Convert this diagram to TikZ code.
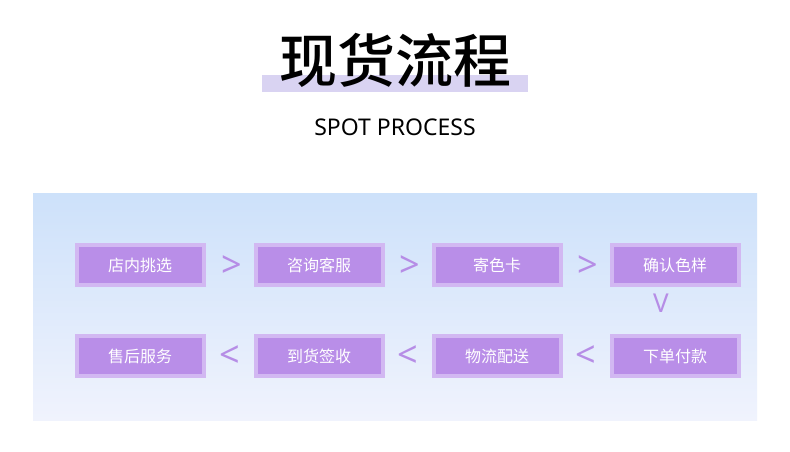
\documentclass[tikz,border=0pt]{standalone}
\usepackage{fontspec}
\setmainfont{Noto Sans}
\newfontfamily\cjk{Noto Sans CJK SC}
\newfontfamily\cjkm{Noto Sans CJK SC Medium}
\definecolor{boxin}{HTML}{B98EE8}
\definecolor{boxout}{HTML}{D2B8F2}
\definecolor{arr}{HTML}{B68DE6}
\definecolor{bar}{HTML}{D9D3F2}
\begin{document}
\begin{tikzpicture}[x=1pt,y=-1pt,
  pstep/.style={draw=boxout,line width=4pt,fill=boxin,minimum width=127pt,minimum height=40pt,inner sep=0pt,text=white,font=\cjk\fontsize{16}{18}\selectfont},
  ar/.style={text=arr,font=\fontsize{36}{36}\selectfont}]
\useasboundingbox (0,0) rectangle (790,451);
\fill[white] (0,0) rectangle (790,451);
\fill[bar] (262,75) rectangle (528,92);
\node[font=\cjkm\fontsize{58}{62}\selectfont] (t) at (395,60) {现货流程};
\node[font=\fontsize{23}{26}\selectfont] (s) at (395,127) {SPOT PROCESS};
\shade[top color={rgb,255:red,205;green,225;blue,250},bottom color={rgb,255:red,240;green,243;blue,253}] (33,193) rectangle (757,420);
\node[pstep] (a1) at (140,265) {店内挑选};
\node[pstep] (a2) at (319,265) {咨询客服};
\node[pstep] (a3) at (497,265) {寄色卡};
\node[pstep] (a4) at (675,265) {确认色样};
\node[pstep] (b4) at (675,356) {下单付款};
\node[pstep] (b3) at (497,356) {物流配送};
\node[pstep] (b2) at (319,356) {到货签收};
\node[pstep] (b1) at (140,356) {售后服务};
\node[ar] (g1) at (232,267) {>};
\node[ar] (g2) at (410,267) {>};
\node[ar] (g3) at (588,267) {>};
\node[ar,font=\fontsize{26}{26}\selectfont] (v) at (661,303) {V};
\node[ar] (l1) at (230,357) {<};
\node[ar] (l2) at (408,357) {<};
\node[ar] (l3) at (586,357) {<};
\end{tikzpicture}
\end{document}
